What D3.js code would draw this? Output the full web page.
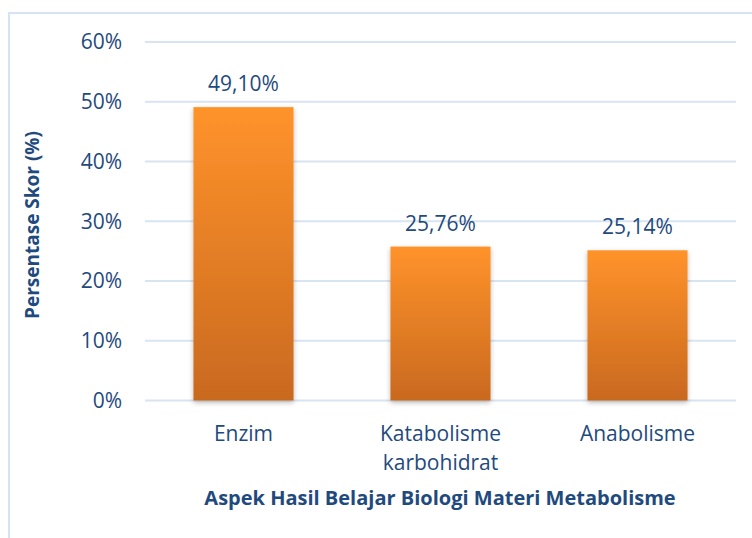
<!DOCTYPE html>
<html><head><meta charset="utf-8">
<script src="https://cdn.jsdelivr.net/npm/d3@7/dist/d3.min.js"></script>
<style>body{margin:0;background:#fff}svg{display:block}</style>
</head><body>
<script>
const categories = [["Enzim"], ["Katabolisme", "karbohidrat"], ["Anabolisme"]];
const values = [49.10, 25.76, 25.14];
const valueLabels = ["49,10%", "25,76%", "25,14%"];
const yTicks = [0, 10, 20, 30, 40, 50, 60];
const yTitle = "Persentase Skor (%)";
const xTitle = "Aspek Hasil Belajar Biologi Materi Metabolisme";

const W = 752, H = 538;
const textColor = "#1f4a7e";
const font = "'Open Sans', sans-serif";
const svg = d3.select("body").append("svg").attr("width", W).attr("height", H);

const defs = svg.append("defs");
const grad = defs.append("linearGradient").attr("id", "barGrad").attr("x1", 0).attr("y1", 0).attr("x2", 0).attr("y2", 1);
grad.append("stop").attr("offset", "0%").attr("stop-color", "#ff932b");
grad.append("stop").attr("offset", "100%").attr("stop-color", "#c9691f");
const f = defs.append("filter").attr("id", "shadow").attr("x", "-20%").attr("y", "-10%").attr("width", "140%").attr("height", "120%");
f.append("feDropShadow").attr("dx", 0).attr("dy", 2).attr("stdDeviation", 2.5).attr("flood-color", "#000").attr("flood-opacity", 0.28);

// chart frame
svg.append("rect").attr("x", 9).attr("y", 13).attr("width", W + 20).attr("height", H + 20)
  .attr("fill", "none").attr("stroke", "#d5e3f4").attr("stroke-width", 2);

const x = d3.scaleBand().domain(d3.range(categories.length)).range([145, 736]).paddingInner(0.492).paddingOuter(0.246);
const y = d3.scaleLinear().domain([0, 60]).range([400.5, 42]);

// gridlines
svg.append("g").selectAll("line").data(yTicks).join("line")
  .attr("x1", 145).attr("x2", 736).attr("y1", d => y(d)).attr("y2", d => y(d))
  .attr("stroke", "#d9e4f2").attr("stroke-width", 2);

// y tick labels
svg.append("g").selectAll("text").data(yTicks).join("text")
  .attr("x", 122).attr("y", d => y(d)).attr("dy", "0.35em").attr("text-anchor", "end")
  .attr("font-family", font).attr("font-size", 21).attr("fill", textColor)
  .text(d => d + "%");

// bars
svg.append("g").selectAll("rect").data(values).join("rect")
  .attr("x", (d, i) => x(i)).attr("width", x.bandwidth())
  .attr("y", d => y(d)).attr("height", d => y(0) - y(d))
  .attr("fill", "url(#barGrad)").attr("filter", "url(#shadow)");

// value labels
svg.append("g").selectAll("text").data(values).join("text")
  .attr("x", (d, i) => x(i) + x.bandwidth() / 2).attr("y", d => y(d) - 16)
  .attr("text-anchor", "middle").attr("font-family", font).attr("font-size", 21).attr("fill", textColor)
  .text((d, i) => valueLabels[i]);

// category labels
const cat = svg.append("g").selectAll("text").data(categories).join("text")
  .attr("x", (d, i) => x(i) + x.bandwidth() / 2).attr("y", 441)
  .attr("text-anchor", "middle").attr("font-family", font).attr("font-size", 21).attr("fill", textColor);
cat.selectAll("tspan").data(d => d).join("tspan")
  .attr("x", function () { return this.parentNode.getAttribute("x"); })
  .attr("dy", (d, i) => i === 0 ? 0 : 29).text(d => d);

// axis titles
svg.append("text").attr("x", 440).attr("y", 505).attr("text-anchor", "middle")
  .attr("font-family", font).attr("font-weight", "bold").attr("font-size", 20).attr("fill", textColor)
  .text(xTitle);
svg.append("text").attr("transform", "translate(39,225) rotate(-90)").attr("text-anchor", "middle")
  .attr("font-family", font).attr("font-weight", "bold").attr("font-size", 19).attr("fill", textColor)
  .text(yTitle);
</script>
</body></html>
